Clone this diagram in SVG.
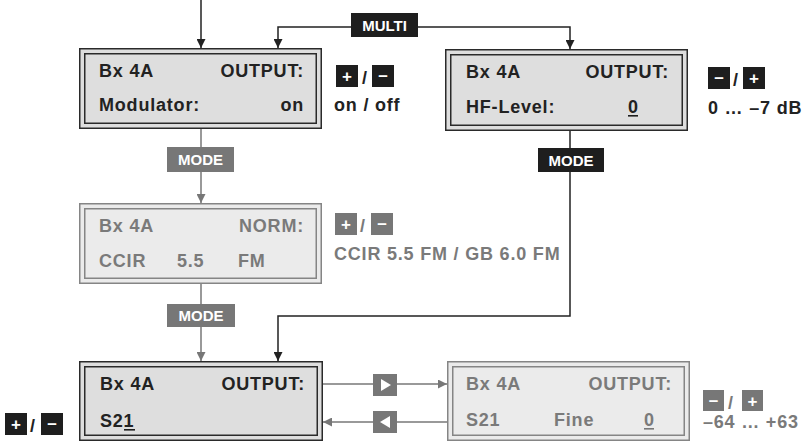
<svg xmlns="http://www.w3.org/2000/svg" width="803" height="442" viewBox="0 0 803 442">
<style>
.t{font-family:"Liberation Sans",Arial,sans-serif;font-weight:bold;font-size:18px;letter-spacing:0.8px}
.dk{fill:#222}
.gy{fill:#7a7a7a}
.end{text-anchor:end}
.lbl{font-family:"Liberation Sans",Arial,sans-serif;font-weight:bold;font-size:15px;fill:#fff;text-anchor:middle}
.key{font-family:"Liberation Sans",Arial,sans-serif;font-weight:bold;font-size:17px;fill:#fff;text-anchor:middle}
.outA{fill:#dedede;stroke:#2a2a2a;stroke-width:1.5}
.inA{fill:#dedede;stroke:#2a2a2a;stroke-width:1.5}
.outB{fill:#ebebeb;stroke:#858585;stroke-width:1.5}
.inB{fill:#ebebeb;stroke:#858585;stroke-width:1.5}
.ln{fill:none;stroke:#222;stroke-width:1.5}
.lg{fill:none;stroke:#777;stroke-width:1.5}
.bk{fill:#1e1e1e}
.gk{fill:#777}
</style>
<defs>
<marker id="ab" viewBox="0 0 10 10" refX="10" refY="5" markerWidth="9" markerHeight="9" markerUnits="userSpaceOnUse" orient="auto"><path d="M0,0 L10,5 L0,10 z" fill="#222"/></marker>
<marker id="ag" viewBox="0 0 10 10" refX="10" refY="5" markerWidth="9" markerHeight="9" markerUnits="userSpaceOnUse" orient="auto"><path d="M0,0 L10,5 L0,10 z" fill="#777"/></marker>
</defs>

<g id="connectors">
<path class="ln" d="M201,0 V48" marker-end="url(#ab)"/>
<path class="ln" d="M352,27 H278 V48" marker-end="url(#ab)"/>
<path class="ln" d="M418,27 H570 V49" marker-end="url(#ab)"/>
<path class="lg" d="M201,129 V148"/>
<path class="lg" d="M201,171 V203" marker-end="url(#ag)"/>
<path class="lg" d="M201,284 V305"/>
<path class="lg" d="M201,326 V361" marker-end="url(#ag)"/>
<path class="ln" d="M570,131 V149"/>
<path class="ln" d="M570,171 V316 H278 V361" marker-end="url(#ab)"/>
<path class="lg" d="M323,384 H447" marker-end="url(#ag)"/>
<path class="lg" d="M447,422 H323" marker-end="url(#ag)"/>
<g id="multi"><rect class="bk" x="351" y="13" width="67" height="24"/><text class="lbl" x="384.5" y="30.5">MULTI</text></g>
<g id="mode1"><rect class="gk" x="167" y="147" width="67" height="25"/><text class="lbl" x="200.5" y="165">MODE</text></g>
<g id="mode2"><rect class="bk" x="538" y="148" width="66" height="24"/><text class="lbl" x="571" y="165.5">MODE</text></g>
<g id="mode3"><rect class="gk" x="167" y="304" width="68" height="23"/><text class="lbl" x="201" y="321">MODE</text></g>
<g id="right-key"><rect class="gk" x="373" y="374" width="24" height="22"/><path d="M381,379 L391,385 L381,391 z" fill="#fff"/></g>
<g id="left-key"><rect class="gk" x="373" y="411" width="24" height="22"/><path d="M390,416 L380,422 L390,428 z" fill="#fff"/></g>
</g>

<g id="node-modulator">
<rect class="outA" x="79.75" y="48.75" width="241.5" height="79.5"/>
<rect class="inA" x="84.75" y="53.75" width="231.5" height="69.5"/>
<text class="t dk" x="99" y="77">Bx 4A</text>
<text class="t dk end" x="304" y="77">OUTPUT:</text>
<text class="t dk" x="99" y="111">Modulator:</text>
<text class="t dk end" x="304" y="111">on</text>
<rect class="bk" x="336" y="65" width="22" height="22"/><text class="key" x="347" y="82">+</text>
<text class="t dk" x="362" y="84">/</text>
<rect class="bk" x="372" y="65" width="22" height="22"/><text class="key" x="383" y="81">–</text>
<text class="t dk" x="334" y="111">on / off</text>
</g>

<g id="node-hflevel">
<rect class="outA" x="445.75" y="49.75" width="241.5" height="80.5"/>
<rect class="inA" x="450.75" y="54.75" width="231.5" height="70.5"/>
<text class="t dk" x="466" y="78">Bx 4A</text>
<text class="t dk end" x="669" y="78">OUTPUT:</text>
<text class="t dk" x="466" y="113">HF-Level:</text>
<text class="t dk" x="628" y="113">0</text>
<rect class="bk" x="628" y="115" width="10" height="1.6"/>
<rect class="bk" x="708" y="67" width="22" height="22"/><text class="key" x="719" y="83">–</text>
<text class="t dk" x="733" y="86">/</text>
<rect class="bk" x="743" y="67" width="22" height="22"/><text class="key" x="754" y="84">+</text>
<text class="t dk" x="708" y="114">0 … –7 dB</text>
</g>

<g id="node-norm">
<rect class="outB" x="79.75" y="203.75" width="241.5" height="79.5"/>
<rect class="inB" x="84.75" y="208.75" width="231.5" height="69.5"/>
<text class="t gy" x="99" y="232">Bx 4A</text>
<text class="t gy end" x="304" y="232">NORM:</text>
<text class="t gy" x="99" y="267">CCIR</text>
<text class="t gy" x="177" y="267">5.5</text>
<text class="t gy" x="238" y="267">FM</text>
<rect class="gk" x="335" y="213" width="22" height="22"/><text class="key" x="346" y="230">+</text>
<text class="t gy" x="360" y="232">/</text>
<rect class="gk" x="371" y="213" width="22" height="22"/><text class="key" x="382" y="229">–</text>
<text class="t gy" x="334" y="260">CCIR 5.5 FM / GB 6.0 FM</text>
</g>

<g id="node-channel">
<rect class="outA" x="79.75" y="361.75" width="242.5" height="78.5"/>
<rect class="inA" x="84.75" y="366.75" width="232.5" height="68.5"/>
<text class="t dk" x="100" y="390">Bx 4A</text>
<text class="t dk end" x="305" y="390">OUTPUT:</text>
<text class="t dk" x="100" y="427">S21</text>
<rect class="bk" x="124" y="429" width="11" height="1.6"/>
<rect class="bk" x="5" y="413" width="22" height="22"/><text class="key" x="16" y="430">+</text>
<text class="t dk" x="30" y="432">/</text>
<rect class="bk" x="41" y="413" width="22" height="22"/><text class="key" x="52" y="429">–</text>
</g>

<g id="node-fine">
<rect class="outB" x="447.75" y="361.75" width="241.5" height="78.5"/>
<rect class="inB" x="452.75" y="366.75" width="231.5" height="68.5"/>
<text class="t gy" x="466" y="390">Bx 4A</text>
<text class="t gy end" x="672" y="390">OUTPUT:</text>
<text class="t gy" x="466" y="426">S21</text>
<text class="t gy" x="554" y="426">Fine</text>
<text class="t gy" x="644" y="426">0</text>
<rect class="gk" x="644" y="428" width="10" height="1.6"/>
<rect class="gk" x="703" y="390" width="21" height="21"/><text class="key" x="713.5" y="406">–</text>
<text class="t gy" x="728" y="409">/</text>
<rect class="gk" x="742" y="390" width="21" height="21"/><text class="key" x="752.5" y="407">+</text>
<text class="t gy" x="703" y="428">–64 … +63</text>
</g>
</svg>
